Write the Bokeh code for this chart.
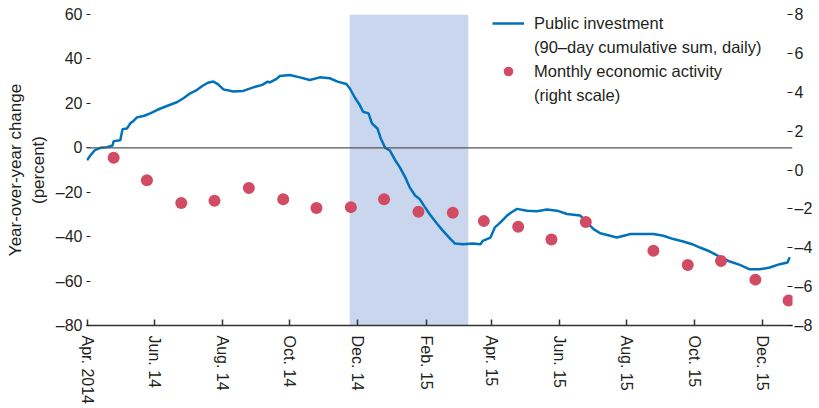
import pandas as pd
from bokeh.plotting import figure
from bokeh.models import (Range1d, LinearAxis, FixedTicker, BoxAnnotation, Span,
                          Legend, LegendItem, ColumnDataSource)
from bokeh.embed import file_html
from bokeh.resources import INLINE

# ---------------- data ----------------
inv_dates = [
    "2014-04-01", "2014-04-04", "2014-04-08", "2014-04-13", "2014-04-19", "2014-04-24",
    "2014-04-25", "2014-05-01", "2014-05-03", "2014-05-07", "2014-05-10", "2014-05-12",
    "2014-05-16", "2014-05-22", "2014-05-28", "2014-06-03", "2014-06-12", "2014-06-21",
    "2014-06-27", "2014-07-03", "2014-07-09", "2014-07-14", "2014-07-19", "2014-07-24",
    "2014-07-28", "2014-08-02", "2014-08-11", "2014-08-20", "2014-08-29", "2014-09-06",
    "2014-09-11", "2014-09-13", "2014-09-19", "2014-09-22", "2014-10-01", "2014-10-10",
    "2014-10-19", "2014-10-28", "2014-11-06", "2014-11-13", "2014-11-21", "2014-11-24",
    "2014-11-29", "2014-12-03", "2014-12-06", "2014-12-11", "2014-12-14", "2014-12-19",
    "2014-12-22", "2014-12-26", "2014-12-30", "2015-01-04", "2015-01-08", "2015-01-13",
    "2015-01-17", "2015-01-22", "2015-01-26", "2015-01-31", "2015-02-04", "2015-02-11",
    "2015-02-16", "2015-02-23", "2015-02-27", "2015-03-06", "2015-03-15", "2015-03-22",
    "2015-03-24", "2015-03-31", "2015-04-04", "2015-04-09", "2015-04-15", "2015-04-19",
    "2015-04-24", "2015-05-03", "2015-05-12", "2015-05-21", "2015-05-30", "2015-06-08",
    "2015-06-20", "2015-06-26", "2015-07-02", "2015-07-08", "2015-07-17", "2015-07-23",
    "2015-08-01", "2015-08-04", "2015-08-13", "2015-08-25", "2015-09-03", "2015-09-12",
    "2015-09-21", "2015-09-29", "2015-10-06", "2015-10-15", "2015-10-24", "2015-11-02",
    "2015-11-11", "2015-11-20", "2015-11-29", "2015-12-08", "2015-12-17", "2015-12-24",
    "2015-12-26",
]
inv_values = [
    -5.6, -3.4, -1.1, 0.0, 0.3, 1.0,
    3.0, 3.4, 8.4, 8.7, 11.0, 11.7,
    13.7, 14.3, 15.5, 17.0, 18.8, 20.5,
    22.3, 24.5, 26.0, 27.8, 29.3, 29.8,
    28.7, 26.3, 25.3, 25.6, 27.2, 28.3,
    29.8, 29.4, 31.0, 32.3, 32.8, 31.7,
    30.5, 31.7, 31.3, 29.8, 28.7, 26.8,
    22.3, 19.3, 16.2, 15.5, 11.0, 8.7,
    4.2, 0.0, -1.1, -5.6, -8.6, -13.2,
    -17.7, -21.5, -23.0, -26.8, -29.8, -34.3,
    -37.3, -41.1, -43.1, -43.4, -43.1, -43.4,
    -41.9, -40.4, -35.8, -33.6, -30.5, -29.0,
    -27.5, -28.3, -28.6, -27.8, -28.3, -29.8,
    -30.5, -33.6, -36.6, -38.5, -39.6, -40.4,
    -39.3, -38.8, -38.8, -38.8, -39.6, -41.1,
    -42.2, -43.4, -44.9, -46.7, -49.1, -51.2,
    -52.7, -54.7, -54.7, -53.9, -52.4, -51.6,
    -49.3,
]

act_dates = [
    "2014-04-25", "2014-05-25", "2014-06-25", "2014-07-25", "2014-08-25", "2014-09-25",
    "2014-10-25", "2014-11-25", "2014-12-25", "2015-01-25", "2015-02-25", "2015-03-25",
    "2015-04-25", "2015-05-25", "2015-06-25", "2015-08-25", "2015-09-25", "2015-10-25",
    "2015-11-25", "2015-12-25",
]
act_values = [
    0.63, -0.53, -1.70, -1.58, -0.93, -1.51,
    -1.96, -1.91, -1.51, -2.15, -2.20, -2.63,
    -2.92, -3.58, -2.68, -4.16, -4.89, -4.68,
    -5.64, -6.71,
]

shade_start = "2014-11-24"
shade_end = "2015-03-11"

x_tick_dates = ["2014-04-01", "2014-06-01", "2014-08-01", "2014-10-01", "2014-12-01",
                "2015-02-01", "2015-04-01", "2015-06-01", "2015-08-01", "2015-10-01",
                "2015-12-01"]
x_tick_labels = ["Apr. 2014", "Jun. 14", "Aug. 14", "Oct. 14", "Dec. 14",
                 "Feb. 15", "Apr. 15", "Jun. 15", "Aug. 15", "Oct. 15", "Dec. 15"]
left_ticks = [-80, -60, -40, -20, 0, 20, 40, 60]
right_ticks = [-8, -6, -4, -2, 0, 2, 4, 6, 8]

legend_lines = ["Public investment", "(90\u2013day cumulative sum, daily)",
                "Monthly economic activity", "(right scale)"]

# ---------------- styling ----------------
FONT = "Liberation Sans"
TXT = "#231f20"
BLUE = "#0072bc"
RED = "#d14b64"
SHADE = "#c9d6ee"

def fmt(v):
    return ("\u2013" + str(abs(v))) if v < 0 else str(v)

def ms(d):
    return pd.Timestamp(d).value // 10**6

p = figure(width=819, height=408, x_axis_type="datetime", output_backend="svg",
           toolbar_location=None, title=None,
           x_range=Range1d(pd.Timestamp("2014-03-31 12:00"), pd.Timestamp("2015-12-28 12:00")),
           y_range=Range1d(-80, 60),
           min_border_left=86, min_border_right=27, min_border_top=14, min_border_bottom=83)
p.outline_line_color = None
p.grid.visible = False
p.background_fill_color = "white"
p.border_fill_color = "white"

p.add_layout(BoxAnnotation(left=ms(shade_start), right=ms(shade_end),
                           fill_color=SHADE, fill_alpha=1.0, line_color=None,
                           level="underlay"))
p.add_layout(Span(location=0, dimension="width", line_color="#555555", line_width=1.2))

inv_src = ColumnDataSource(dict(x=pd.to_datetime(inv_dates), y=inv_values))
act_src = ColumnDataSource(dict(x=pd.to_datetime(act_dates), y=act_values))

p.extra_y_ranges = {"right": Range1d(-8, 8)}

line = p.line("x", "y", source=inv_src, line_color=BLUE, line_width=2.5)
dots = p.scatter("x", "y", source=act_src, y_range_name="right", size=12,
                 fill_color=RED, line_color=None)
# invisible renderer used only to carry the legend's continuation lines
blank = p.line("x", "y", source=inv_src, line_alpha=0)

# x axis
xa = p.xaxis[0]
xt = [ms(d) for d in x_tick_dates]
xa.ticker = FixedTicker(ticks=xt)
xa.major_label_overrides = {t: lab for t, lab in zip(xt, x_tick_labels)}
xa.major_label_orientation = "vertical"
xa.major_label_text_font = FONT
xa.major_label_text_font_size = "16px"
xa.major_label_text_color = TXT
xa.major_label_standoff = 10
xa.major_tick_in = 6
xa.major_tick_out = 0
xa.minor_tick_line_color = None
xa.axis_line_color = "#333333"
xa.axis_line_width = 1.5
xa.major_tick_line_color = "#333333"
xa.major_tick_line_width = 1.5

# left axis
ya = p.yaxis[0]
ya.ticker = FixedTicker(ticks=left_ticks)
ya.major_label_overrides = {t: fmt(t) for t in left_ticks}
ya.axis_line_color = None
ya.major_tick_in = 4
ya.major_tick_out = 0
ya.minor_tick_line_color = None
ya.major_tick_line_color = TXT
ya.major_label_text_font = FONT
ya.major_label_text_font_size = "16px"
ya.major_label_text_color = TXT
ya.major_label_standoff = 4
ya.axis_label = "Year-over-year change\n(percent)"
ya.axis_label_text_font = FONT
ya.axis_label_text_font_size = "17px"
ya.axis_label_text_font_style = "normal"
ya.axis_label_text_color = TXT
ya.axis_label_standoff = 5

# right axis
ra = LinearAxis(y_range_name="right", ticker=FixedTicker(ticks=right_ticks))
ra.major_label_overrides = {t: fmt(t) for t in right_ticks}
ra.axis_line_color = None
ra.major_tick_in = 5
ra.major_tick_out = 0
ra.minor_tick_line_color = None
ra.major_tick_line_color = TXT
ra.major_label_text_font = FONT
ra.major_label_text_font_size = "16px"
ra.major_label_text_color = TXT
ra.major_label_standoff = 2
p.add_layout(ra, "right")

legend = Legend(items=[
    LegendItem(label=legend_lines[0], renderers=[line]),
    LegendItem(label=legend_lines[1], renderers=[blank]),
    LegendItem(label=legend_lines[2], renderers=[dots]),
    LegendItem(label=legend_lines[3], renderers=[blank]),
], location=(406, 218))
legend.label_text_font = FONT
legend.label_text_font_size = "16.5px"
legend.label_text_color = TXT
legend.label_height = 24
legend.glyph_width = 32
legend.glyph_height = 24
legend.label_standoff = 10
legend.spacing = 0
legend.padding = 0
legend.margin = 0
legend.border_line_color = None
legend.background_fill_alpha = 0
p.add_layout(legend)

open("out.html", "w").write(file_html(p, INLINE))
